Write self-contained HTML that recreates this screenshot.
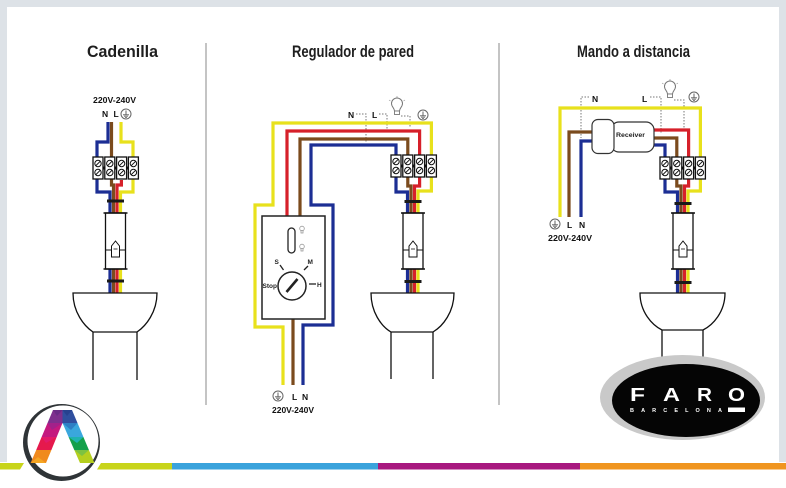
<!DOCTYPE html>
<html><head><meta charset="utf-8"><style>
html,body{margin:0;padding:0;background:#fff;}
svg{display:block}
</style></head><body>
<svg width="786" height="488" viewBox="0 0 786 488" xmlns="http://www.w3.org/2000/svg">
<rect width="786" height="488" fill="#fff"/>
<!-- frame -->
<rect x="0" y="0" width="786" height="7" fill="#dde2e7"/>
<rect x="0" y="0" width="7" height="462" fill="#dde2e7"/>
<rect x="779" y="0" width="7" height="462" fill="#dde2e7"/>

<!-- bottom bar -->
<polygon points="0,463 24,463 20,469.5 0,469.5" fill="#c8d41a"/>
<polygon points="101,463 172,463 172,469.5 97,469.5" fill="#c8d41a"/>
<rect x="172" y="463" width="206" height="6.5" fill="#3aa3dc"/>
<rect x="378" y="463" width="202" height="6.5" fill="#a8197f"/>
<rect x="580" y="463" width="206" height="6.5" fill="#f0951f"/>

<!-- dividers -->
<line x1="206" y1="43" x2="206" y2="405" stroke="#8a8a8a" stroke-width="1"/>
<line x1="499" y1="43" x2="499" y2="405" stroke="#8a8a8a" stroke-width="1"/>

<!-- titles -->
<g font-family="'Liberation Sans Narrow','Liberation Sans',sans-serif" font-weight="bold" font-size="17" fill="#1e1e1e">
<text x="87" y="57" textLength="71" lengthAdjust="spacingAndGlyphs">Cadenilla</text>
<text x="292" y="57" textLength="122" lengthAdjust="spacingAndGlyphs">Regulador de pared</text>
<text x="577" y="57" textLength="113" lengthAdjust="spacingAndGlyphs">Mando a distancia</text>
</g>

<!-- dashed leads -->
<g stroke="#777" stroke-width="1" fill="none" stroke-dasharray="1.5 1.5">
<polyline points="356,114 366,114 366,143"/>
<polyline points="379,114 387,114 387,130"/>
<polyline points="401,116 410,116 410,127"/>
<polyline points="589,97 581,97 581,138"/>
<polyline points="650,97 661,97 661,133"/>
<polyline points="674,100 684,100 684,128"/>
</g>

<!-- WIRES -->
<g fill="none" stroke-width="3.2" stroke-linejoin="miter" stroke-linecap="butt">
<!-- left -->
<path d="M121,122 V142 H133 V192 H120.5 V293" stroke="#e8e11c"/>
<path d="M121.4,180 V185 H117 V293" stroke="#d6202a"/>
<path d="M111.5,122 V185 H113.5 V293" stroke="#7b4b1d"/>
<path d="M108,122 V142 H97 V192 H110 V293" stroke="#1c2e94"/>
<!-- middle -->
<path d="M283,385 V327 H255 V205 H273 V123 H431.4 V191 H418 V293" stroke="#e8e11c"/>
<path d="M287,217 V131 H419.6 V186 H414.5 V293" stroke="#d6202a"/>
<path d="M300,217 V139 H407.8 V186 H411 V293" stroke="#7b4b1d"/>
<path d="M293,318 V385" stroke="#7b4b1d"/>
<path d="M303,385 V325 H333 V205 H311 V145 H396 V192 H407.5 V293" stroke="#1c2e94"/>
<!-- right -->
<path d="M560,217 V108 H700.4 V191 H688 V293" stroke="#e8e11c"/>
<path d="M653,130 H688.6 V186 H684.5 V293" stroke="#d6202a"/>
<path d="M569,217 V132 H594" stroke="#7b4b1d"/>
<path d="M653,138 H676.8 V186 H681 V293" stroke="#7b4b1d"/>
<path d="M581,217 V141 H594" stroke="#1c2e94"/>
<path d="M653,145 H665 V192 H677.5 V293" stroke="#1c2e94"/>
</g>

<!-- bands -->
<g fill="#1a1a1a">
<rect x="107" y="199.5" width="17" height="3"/>
<rect x="107" y="279.5" width="17" height="3"/>
<rect x="404.5" y="200" width="17" height="3"/>
<rect x="404.5" y="280" width="17" height="3"/>
<rect x="674.5" y="202" width="17" height="3"/>
<rect x="674.5" y="281" width="17" height="3"/>
</g>

<!-- terminal blocks -->
<defs>
<g id="cell">
<rect x="0" y="0" width="10" height="22" fill="#fff" stroke="#111" stroke-width="1.3"/>
<circle cx="5" cy="6.5" r="3.2" fill="#fff" stroke="#111" stroke-width="1"/>
<circle cx="5" cy="15.5" r="3.2" fill="#fff" stroke="#111" stroke-width="1"/>
<line x1="2.8" y1="8.7" x2="7.2" y2="4.3" stroke="#111" stroke-width="1"/>
<line x1="2.8" y1="17.7" x2="7.2" y2="13.3" stroke="#111" stroke-width="1"/>
</g>
<g id="tblock">
<use href="#cell" x="0"/>
<use href="#cell" x="11.8"/>
<use href="#cell" x="23.6"/>
<use href="#cell" x="35.4"/>
<rect x="9.5" y="9.5" width="2.8" height="3" fill="#111"/>
<rect x="21.3" y="9.5" width="2.8" height="3" fill="#111"/>
<rect x="33.1" y="9.5" width="2.8" height="3" fill="#111"/>
</g>
<g id="holder">
<rect x="0" y="0" width="20" height="56" fill="#fff" stroke="#111" stroke-width="1.3"/>
<line x1="-2" y1="0" x2="22" y2="0" stroke="#111" stroke-width="1.5"/>
<line x1="-2" y1="56" x2="22" y2="56" stroke="#111" stroke-width="1.5"/>
<line x1="0" y1="37" x2="20" y2="37" stroke="#111" stroke-width="1"/>
<polygon points="6,44 6,33 10,28 14,33 14,44" fill="#fff" stroke="#111" stroke-width="1"/>
<line x1="8" y1="36" x2="12" y2="36" stroke="#111" stroke-width="0.8"/>
</g>
<g id="ground">
<circle cx="0" cy="0" r="5" fill="#fff" stroke="#666" stroke-width="1"/>
<line x1="0" y1="-3.5" x2="0" y2="0.5" stroke="#666" stroke-width="1"/>
<line x1="-3" y1="0.8" x2="3" y2="0.8" stroke="#666" stroke-width="1"/>
<line x1="-2" y1="2.2" x2="2" y2="2.2" stroke="#666" stroke-width="0.9"/>
<line x1="-1" y1="3.5" x2="1" y2="3.5" stroke="#666" stroke-width="0.8"/>
</g>
<g id="bulb">
<path d="M-2.5,5 C-2.5,2 -5.5,1 -5.5,-2.5 A5.5,5.5 0 1 1 5.5,-2.5 C5.5,1 2.5,2 2.5,5 Z" fill="#fff" stroke="#777" stroke-width="1"/>
<rect x="-2.5" y="5" width="5" height="3.5" fill="#fff" stroke="#777" stroke-width="0.9"/>
<line x1="-8" y1="-6" x2="-6.5" y2="-5" stroke="#999" stroke-width="0.7"/>
<line x1="8" y1="-6" x2="6.5" y2="-5" stroke="#999" stroke-width="0.7"/>
<line x1="0" y1="-10" x2="0" y2="-8.5" stroke="#999" stroke-width="0.7"/>
</g>
</defs>

<use href="#tblock" x="93" y="157"/>
<use href="#tblock" x="391" y="155"/>
<use href="#tblock" x="660" y="157"/>

<use href="#holder" x="105.5" y="213"/>
<use href="#holder" x="403" y="213"/>
<use href="#holder" x="673" y="213"/>

<!-- bowls -->
<g fill="#fff" stroke="#111" stroke-width="1.3">
<path d="M73,293 H157 C157,312 146,326 137,332 H93 C84,326 73,312 73,293 Z"/>
<path d="M93,332 V380 M137,332 V380" fill="none"/>
<path d="M371,293 H454 C454,312 443,326 433,332 H391 C381,326 371,312 371,293 Z"/>
<path d="M391,332 V379 M433,332 V379" fill="none"/>
<path d="M640,293 H725 C725,312 713,325 703,330 H662 C652,325 640,312 640,293 Z"/>
<path d="M662,330 V366 M703,330 V366" fill="none"/>
</g>

<!-- regulator box -->
<rect x="262" y="216" width="63" height="103" fill="#fff" stroke="#222" stroke-width="1.5"/>
<rect x="288" y="228" width="7" height="25" rx="3.5" fill="#fff" stroke="#222" stroke-width="1.3"/>
<g stroke="#999" stroke-width="0.8" fill="#fff">
<circle cx="302" cy="228.5" r="2.3"/><rect x="301" y="230.5" width="2" height="2.5"/>
<circle cx="302" cy="246.5" r="2.3"/><rect x="301" y="248.5" width="2" height="2.5"/>
</g>
<circle cx="292" cy="286" r="14" fill="#fff" stroke="#222" stroke-width="1.5"/>
<line x1="286.5" y1="292" x2="297.5" y2="279" stroke="#222" stroke-width="2.6"/>
<g stroke="#222" stroke-width="1.3">
<line x1="280" y1="265" x2="283.5" y2="270"/>
<line x1="304" y1="270" x2="308" y2="266"/>
<line x1="309" y1="284" x2="316" y2="284"/>
</g>
<g font-family="'Liberation Sans',sans-serif" font-weight="bold" font-size="6.5" fill="#222">
<text x="274.5" y="264">S</text>
<text x="307.5" y="264">M</text>
<text x="262.5" y="288">Stop</text>
<text x="317" y="287">H</text>
</g>

<!-- receiver -->
<rect x="611" y="122" width="43" height="30" rx="8" fill="#fff" stroke="#333" stroke-width="1.2"/>
<rect x="592" y="119.5" width="22" height="34" rx="6" fill="#fff" stroke="#333" stroke-width="1.2"/>
<text x="616" y="137" font-family="'Liberation Sans',sans-serif" font-weight="bold" font-size="6.5" fill="#222" textLength="29" lengthAdjust="spacingAndGlyphs">Receiver</text>

<!-- labels -->
<g font-family="'Liberation Sans',sans-serif" font-weight="bold" fill="#111">
<text x="93" y="103" font-size="8" textLength="43" lengthAdjust="spacingAndGlyphs">220V-240V</text>
<text x="102" y="117" font-size="8.5">N</text>
<text x="113.5" y="117" font-size="8.5">L</text>
<text x="348" y="118" font-size="8.5">N</text>
<text x="372" y="118" font-size="8.5">L</text>
<text x="292" y="400" font-size="8.5">L</text>
<text x="302" y="400" font-size="8.5">N</text>
<text x="272" y="413" font-size="8" textLength="42" lengthAdjust="spacingAndGlyphs">220V-240V</text>
<text x="592" y="102" font-size="8.5">N</text>
<text x="642" y="102" font-size="8.5">L</text>
<text x="567" y="228" font-size="8.5">L</text>
<text x="579" y="228" font-size="8.5">N</text>
<text x="548" y="241" font-size="8" textLength="44" lengthAdjust="spacingAndGlyphs">220V-240V</text>
</g>
<use href="#ground" x="126" y="114"/>
<use href="#ground" x="423" y="115"/>
<use href="#ground" x="278" y="396"/>
<use href="#ground" x="694" y="97"/>
<use href="#ground" x="555" y="224"/>
<use href="#bulb" x="397" y="106"/>
<use href="#bulb" x="670" y="89"/>

<!-- FARO logo -->
<ellipse cx="682.5" cy="397.5" rx="82.5" ry="42.5" fill="#c9c9c9"/>
<ellipse cx="686" cy="400.5" rx="74" ry="36.5" fill="#050505"/>
<g font-family="'Liberation Sans',sans-serif" font-weight="bold" font-size="18" fill="#fff">
<text x="630" y="401" textLength="15" lengthAdjust="spacingAndGlyphs">F</text>
<text x="663" y="401" textLength="17" lengthAdjust="spacingAndGlyphs">A</text>
<text x="697" y="401" textLength="15" lengthAdjust="spacingAndGlyphs">R</text>
<text x="728" y="401" textLength="17" lengthAdjust="spacingAndGlyphs">O</text>
</g>
<text x="630" y="412" font-family="'Liberation Sans',sans-serif" font-weight="bold" font-size="5.5" fill="#fff" textLength="92" lengthAdjust="spacing">BARCELONA</text>
<rect x="728" y="407.5" width="17" height="4.5" fill="#fff"/>

<!-- bottom-left logo -->
<circle cx="61.5" cy="442.5" r="38.5" fill="#2f3437"/>
<circle cx="63" cy="441" r="35.5" fill="#fff"/>
<polygon points="53,410 62.5,410 62.5,423 47.5,423" fill="#7e2f8e"/>
<polygon points="53,410 62.5,410 57,416" fill="#6a2a86"/>
<polygon points="62.5,410 72,410 77.5,423 62.5,423" fill="#2f4f9f"/>
<polygon points="62.5,410 72,410 67,416" fill="#27418f"/>
<polygon points="47.5,423 62.5,423 56.7,437 41.6,437" fill="#c4197f"/>
<polygon points="47.5,423 62.5,423 52,430" fill="#a3218a"/>
<polygon points="41.6,437 56.7,437 51.4,450 36.2,450" fill="#e5194d"/>
<polygon points="41.6,437 56.7,437 46,443" fill="#e21a6b"/>
<polygon points="36.2,450 51.4,450 46,463 30.6,463" fill="#f08a1d"/>
<polygon points="30.6,463 46,463 38,457" fill="#f5a623"/>
<polygon points="62.5,423 77.5,423 83.4,437 68.6,437" fill="#3aa7dd"/>
<polygon points="62.5,423 77.5,423 71,430" fill="#2d7fc4"/>
<polygon points="68.6,437 83.4,437 88.9,450 74.3,450" fill="#14a04b"/>
<polygon points="68.6,437 83.4,437 77,443" fill="#1fb3b0"/>
<polygon points="74.3,450 88.9,450 94.4,463 80,463" fill="#b5cf1f"/>
<polygon points="74.3,450 88.9,450 82,456" fill="#7cc242"/>
</svg>
</body></html>
